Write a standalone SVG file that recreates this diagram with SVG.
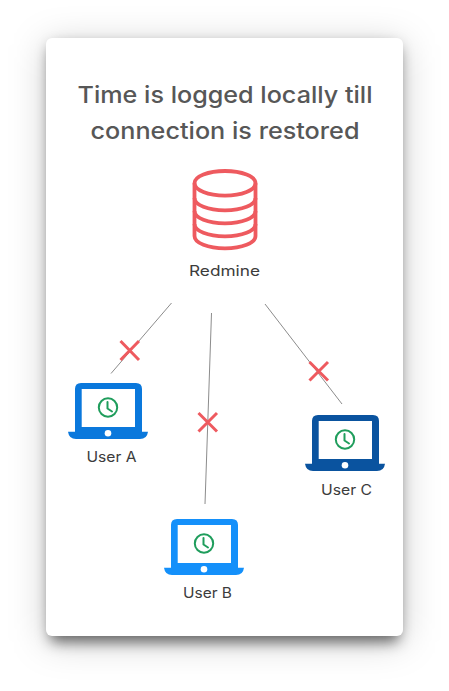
<svg xmlns="http://www.w3.org/2000/svg" width="449" height="691" viewBox="0 0 449 691">
<style>
.t{font-family:"Inter","Liberation Sans",sans-serif;text-anchor:middle}
.title{font-size:23.5px;font-weight:500;fill:#575757}
.lab{font-size:14.4px;fill:#3c3c3c}
.conn{stroke:#8c8c8c;stroke-width:1;fill:none}
.x{stroke:#ee5a5f;stroke-width:3;fill:none}
.db{stroke:#ee5a5f;stroke-width:3.8;fill:none}
.clock{stroke:#1f9d5c;stroke-width:2;fill:none;stroke-linecap:round;stroke-linejoin:round}
</style>
<defs>
<filter id="s1" x="-30%" y="-30%" width="160%" height="160%"><feGaussianBlur stdDeviation="18"/></filter>
<filter id="s2" x="-10%" y="-10%" width="120%" height="120%"><feGaussianBlur stdDeviation="7"/></filter>
<g id="laptop">
<path fill-rule="evenodd" d="M13 0H68Q74 0 74 6V48.700H80Q79 56 72 56H8Q1 56 0 48.700H7V6Q7 0 13 0ZM13.700 6V44H67V6Z"/>
<circle cx="40" cy="50.300" r="3.300" fill="#fff"/>
<circle cx="40" cy="24.500" r="9.200" class="clock"/>
<path d="M39.500 19V25.500L44 28.500" class="clock"/>
</g>
</defs>
<rect width="449" height="691" fill="#fff"/>
<g id="card">
<rect x="46" y="38" width="357" height="598" rx="6" fill="#000" fill-opacity=".2" filter="url(#s1)" transform="translate(0,6)"/>
<rect x="50" y="46" width="349" height="596" rx="6" fill="#000" fill-opacity=".55" filter="url(#s2)"/>
<rect x="46" y="38" width="357" height="598" rx="6" fill="#fff"/>
</g>
<g id="title" class="t title">
<text x="225" y="102.500" textLength="295" lengthAdjust="spacingAndGlyphs">Time is logged locally till</text>
<text x="225" y="139" textLength="269" lengthAdjust="spacingAndGlyphs">connection is restored</text>
</g>
<g id="connectors">
<path class="conn" d="M171.500 303L111 373.500"/>
<path class="conn" d="M211.500 313L205 504"/>
<path class="conn" d="M265 304L342 404"/>
<path class="x" d="M120.500 341L139 360M139 341L120.500 360"/>
<path class="x" d="M198.500 413L217 431.500M217 413L198.500 431.500"/>
<path class="x" d="M309.500 362L328 380.500M328 362L309.500 380.500"/>
</g>
<g id="redmine">
<ellipse cx="225" cy="183.300" rx="30.500" ry="12.300" class="db"/>
<path class="db" d="M194.500 183.300V236C194.500 243 208 248.300 225 248.300S255.500 243 255.500 236V183.300"/>
<path class="db" d="M194.500 198C194.500 205 208 210.300 225 210.300S255.500 205 255.500 198"/>
<path class="db" d="M194.500 211C194.500 218 208 223.300 225 223.300S255.500 218 255.500 211"/>
<path class="db" d="M194.500 224C194.500 231 208 236.300 225 236.300S255.500 231 255.500 224"/>
<text class="t lab" x="224.500" y="276" textLength="71" lengthAdjust="spacingAndGlyphs">Redmine</text>
</g>
<g id="user-a">
<use href="#laptop" x="68" y="383" fill="#0a78dc"/>
<text class="t lab" x="111.500" y="462" textLength="50" lengthAdjust="spacingAndGlyphs">User A</text>
</g>
<g id="user-b">
<use href="#laptop" x="164" y="519" fill="#1490fa"/>
<text class="t lab" x="207.500" y="598" textLength="49" lengthAdjust="spacingAndGlyphs">User B</text>
</g>
<g id="user-c">
<use href="#laptop" x="305" y="415" fill="#0a539f"/>
<text class="t lab" x="346.500" y="495" textLength="51" lengthAdjust="spacingAndGlyphs">User C</text>
</g>
</svg>
